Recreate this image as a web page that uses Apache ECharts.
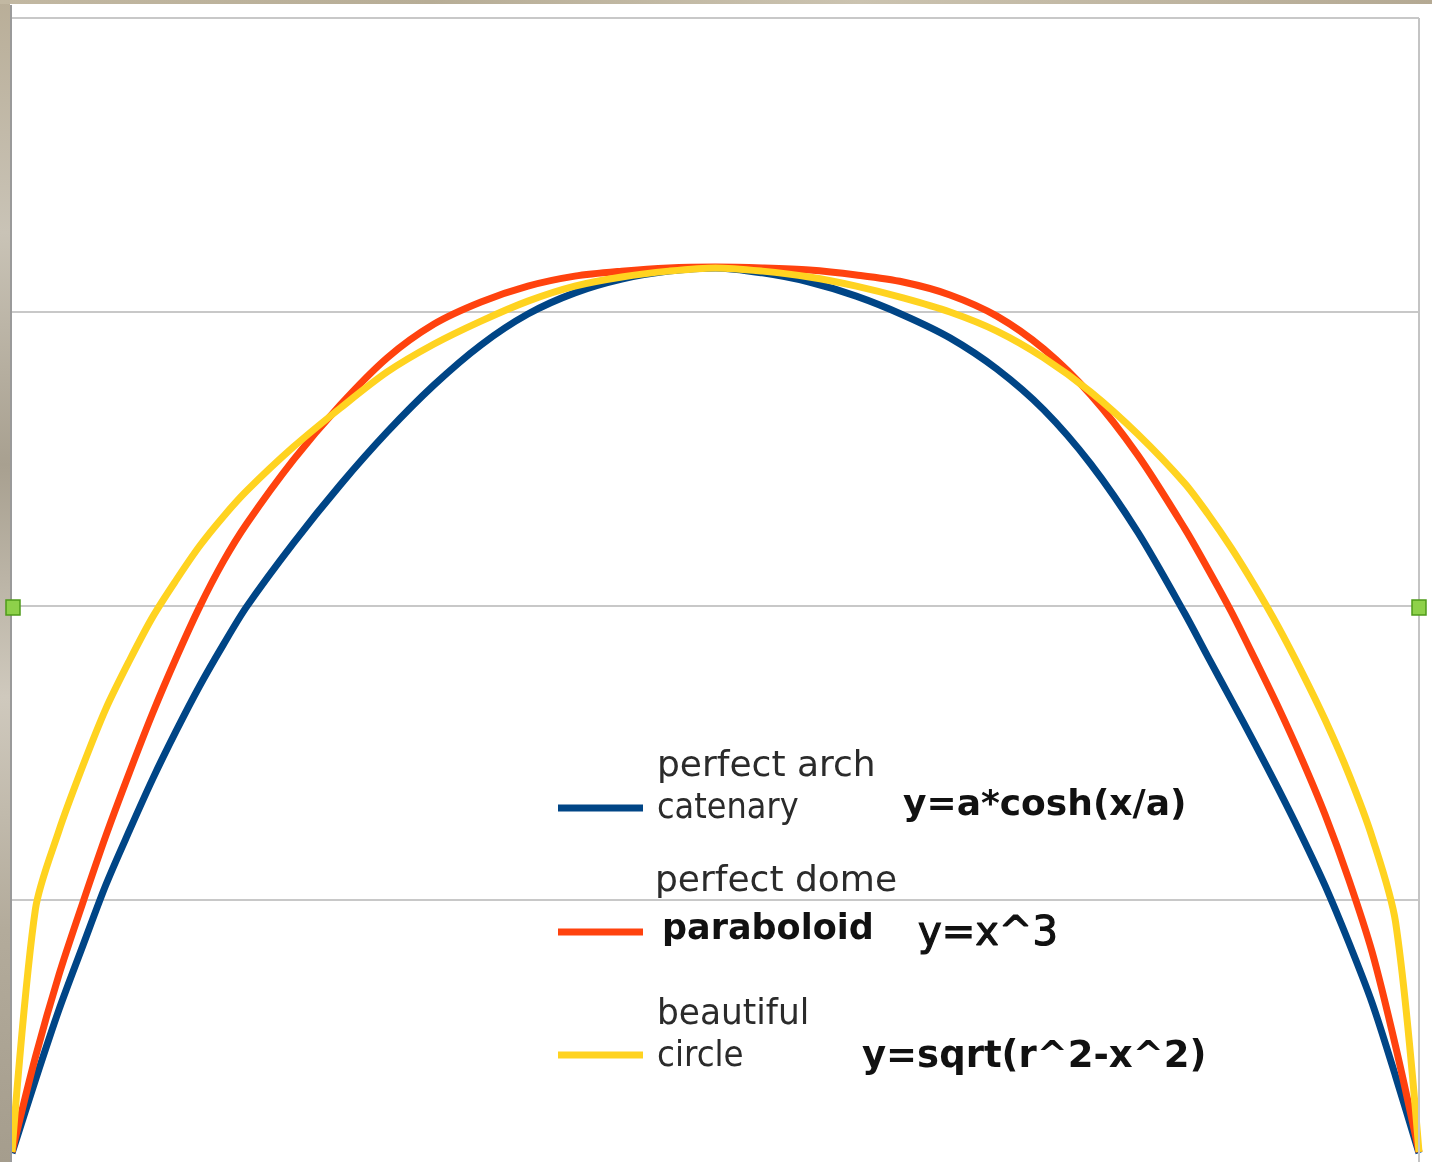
<!DOCTYPE html>
<html>
<head>
<meta charset="utf-8">
<title>arch / dome / circle</title>
<script src="https://cdn.jsdelivr.net/npm/echarts@6/dist/echarts.min.js"></script>
<style>
html, body { margin: 0; padding: 0; background: #fff; }
#chart { width: 1432px; height: 1162px; }
</style>
</head>
<body>
<div id="chart"></div>
<script>
// x positions (category steps of the original sheet), shared by all three curves
const xs = [-30, -29, -28, -27, -26, -25, -24, -23, -22, -21, -20, -18, -16, -14, -12, -10, -8, -6, -4, -2,
  0, 2, 4, 6, 8, 10, 12, 14, 16, 18, 20, 21, 22, 23, 24, 25, 26, 27, 28, 29, 30]

const catenary = [13.9, 38.8, 62.6, 84.0, 105.1, 123.5, 141.2, 157.5, 172.8, 186.7, 199.7, 221.4, 241.2, 259.2, 275.2, 288.8, 299.3, 306.5, 311.2, 313.9,
  315.0, 313.3, 310.2, 305.4, 299.0, 291.2, 280.6, 266.7, 248.3, 225.2, 197.6, 182.7, 168.0, 153.1, 137.8, 121.8, 104.8, 85.7, 65.0, 40.1, 13.9]

const paraboloid = [14.3, 46.6, 74.5, 98.6, 121.8, 143.2, 163.6, 182.3, 199.7, 215.0, 227.9, 249.7, 268.4, 284.4, 295.9, 303.4, 308.8, 312.2, 313.9, 315.0,
  315.3, 315.0, 314.3, 312.6, 310.2, 305.8, 298.6, 287.4, 271.8, 251.4, 226.5, 212.6, 198.0, 182.0, 165.6, 148.0, 128.9, 107.1, 82.3, 50.3, 14.3]

const circle = [14.3, 96.9, 123.5, 145.2, 165.0, 181.3, 196.3, 208.8, 220.4, 230.3, 239.1, 254.1, 267.3, 279.6, 289.1, 296.9, 303.7, 308.8, 311.9, 313.9,
  315.0, 313.9, 311.9, 308.8, 304.8, 300.0, 293.5, 284.4, 272.8, 258.5, 241.8, 231.3, 219.7, 206.8, 192.9, 177.6, 161.2, 142.9, 121.4, 92.5, 14.3]

const yTicks = [0, 100, 200, 300, 400]

const seriesNames = ['catenary', 'paraboloid', 'circle']
const colors = ['#004586', '#ff420e', '#ffd320']

const toPoints = (ys) => xs.map((x, i) => [x, ys[i]])

const chart = echarts.init(document.getElementById('chart'), null, { renderer: 'canvas' })

const thin = { fontFamily: 'DejaVu Sans', fontSize: 36, fill: '#2b2b2b' }
const bold = { fontFamily: 'DejaVu Sans', fontSize: 36, fontWeight: 'bold', fill: '#111' }
// sx squeezes the narrow-looking words a little
const label = (x, y, text, st, sx) => ({
  type: 'text', x, y, z: 20, scaleX: sx || 1,
  style: Object.assign({ text, verticalAlign: 'middle' }, st)
})
const swatch = (y, color) => ({
  type: 'rect', z: 20,
  shape: { x: 558, y: y - 3.5, width: 85, height: 7 },
  style: { fill: color }
})
const handle = (x) => ({
  type: 'rect', z: 30,
  shape: { x: x - 7, y: 600, width: 14, height: 15 },
  style: { fill: '#8ed14a', stroke: '#4f9a1a', lineWidth: 1.5 }
})

const option = {
  animation: false,
  backgroundColor: '#ffffff',
  // the zero line sits below the visible area, as in the cropped screenshot
  grid: { left: 12, right: 13, top: 18, height: 1176, outerBoundsMode: 'none', show: false },
  xAxis: {
    type: 'value',
    min: -30,
    max: 30,
    show: false
  },
  yAxis: {
    type: 'value',
    min: yTicks[0],
    max: yTicks[yTicks.length - 1],
    interval: yTicks[1] - yTicks[0],
    axisLine: { show: false },
    axisTick: { show: false },
    axisLabel: { show: false },
    splitLine: { lineStyle: { color: '#c8c8c8', width: 2 } }
  },
  series: [catenary, paraboloid, circle].map((ys, i) => ({
    name: seriesNames[i],
    type: 'line',
    data: toPoints(ys),
    showSymbol: false,
    smooth: 0.3,
    clip: false,
    lineStyle: { color: colors[i], width: 7, join: 'round' },
    itemStyle: { color: colors[i] }
  })),
  graphic: [
    // frame of the plot area
    { type: 'line', z: 15, shape: { x1: 1419, y1: 18, x2: 1419, y2: 1162 }, style: { stroke: '#c4c4c4', lineWidth: 2 } },
    { type: 'line', z: 15, shape: { x1: 11, y1: 5, x2: 11, y2: 1162 }, style: { stroke: '#9a9a9a', lineWidth: 2 } },
    // background of the slide around the chart
    {
      type: 'rect', z: 25,
      shape: { x: 0, y: 0, width: 10, height: 1162 },
      style: {
        fill: new echarts.graphic.LinearGradient(0, 0, 0, 1, [
          { offset: 0, color: '#b9ae98' }, { offset: 0.2, color: '#c9c3b6' },
          { offset: 0.4, color: '#a8a090' }, { offset: 0.6, color: '#cfc9bd' },
          { offset: 0.8, color: '#b3ab9b' }, { offset: 1, color: '#a59d8d' }
        ])
      }
    },
    {
      type: 'rect', z: 25,
      shape: { x: 0, y: 0, width: 1432, height: 4 },
      style: {
        fill: new echarts.graphic.LinearGradient(0, 0, 1, 0, [
          { offset: 0, color: '#c2b8a2' }, { offset: 0.3, color: '#b7ad96' },
          { offset: 0.6, color: '#cbc3b0' }, { offset: 1, color: '#b4a993' }
        ])
      }
    },
    handle(13),
    handle(1419),
    swatch(808, colors[0]),
    swatch(932, colors[1]),
    swatch(1055, colors[2]),
    label(657, 767, 'perfect arch', thin),
    label(657, 809, 'catenary', thin, 0.89),
    label(903, 806, 'y=a*cosh(x/a)', bold),
    label(655, 882, 'perfect dome', thin),
    label(662, 930, 'paraboloid', Object.assign({}, bold, { fontSize: 35 })),
    label(918, 935, 'y=x^3', Object.assign({}, bold, { fontWeight: 'normal', fontSize: 40, stroke: '#111', lineWidth: 1.2 })),
    label(657, 1015, 'beautiful', thin, 0.955),
    label(657, 1057, 'circle', thin, 0.905),
    label(862, 1057, 'y=sqrt(r^2-x^2)', Object.assign({}, bold, { fontSize: 37 }))
  ]
}

chart.setOption(option)
window.addEventListener('resize', () => {
  chart.resize()
})
</script>
</body>
</html>
